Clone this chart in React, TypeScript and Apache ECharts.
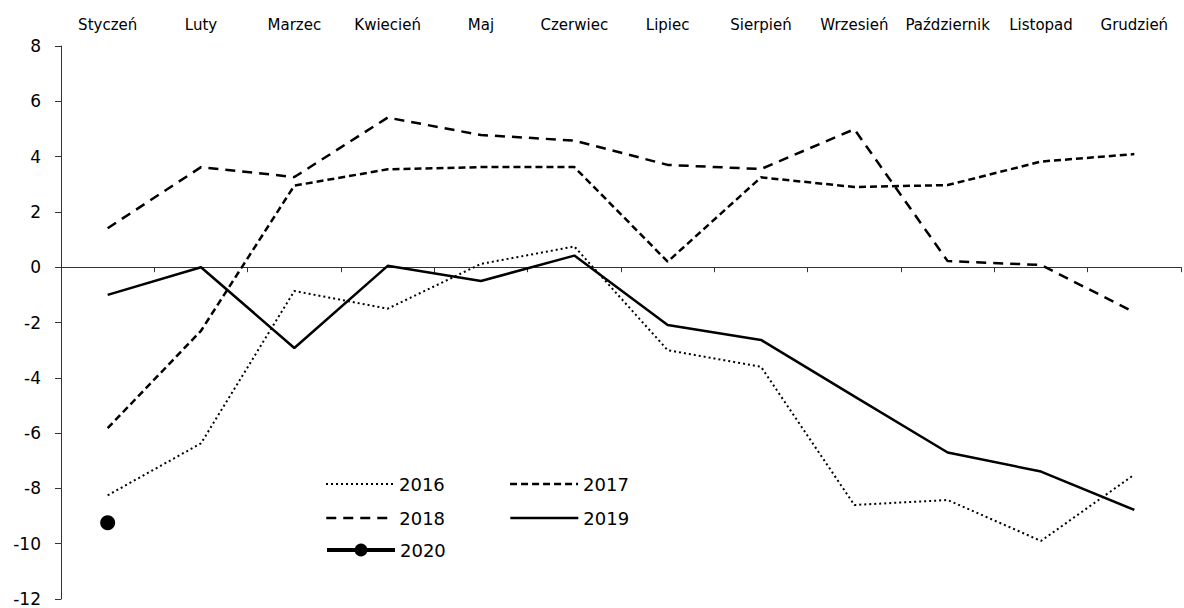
import React, { useEffect, useRef } from "react";
import * as echarts from "echarts";

const months = [
  "Styczeń", "Luty", "Marzec", "Kwiecień", "Maj", "Czerwiec",
  "Lipiec", "Sierpień", "Wrzesień", "Październik", "Listopad", "Grudzień",
];
const yTicks = { min: -12, max: 8, interval: 2 };

const s2016 = [-8.25, -6.37, -0.86, -1.5, 0.12, 0.75, -3.0, -3.6, -8.6, -8.42, -9.9, -7.5];
const s2017 = [-5.82, -2.3, 2.95, 3.54, 3.62, 3.62, 0.2, 3.25, 2.9, 2.97, 3.82, 4.09];
const s2018 = [1.41, 3.62, 3.26, 5.41, 4.78, 4.58, 3.7, 3.55, 4.99, 0.22, 0.08, -1.63];
const s2019 = [-1.0, 0.0, -2.92, 0.05, -0.5, 0.42, -2.09, -2.63, -4.67, -6.7, -7.39, -8.78];
const s2020 = [-9.24, null, null, null, null, null, null, null, null, null, null, null];

const FONT = "DejaVu Sans";

export default function App() {
  const ref = useRef<HTMLDivElement>(null);
  useEffect(() => {
    if (!ref.current) return;
    const chart = echarts.init(ref.current, undefined, { renderer: "svg" });
    const legendBase = {
      orient: "horizontal" as const,
      itemWidth: 68,
      itemHeight: 14,
      itemGap: 64,
      left: 325,
      padding: 0,
      textStyle: { fontSize: 18, color: "#000", fontFamily: FONT },
      selectedMode: false,
    };
    const noSym = (name: string, w: number) => ({
      name,
      itemStyle: { opacity: 0 },
      lineStyle: { width: w },
    });
    chart.setOption({
      animation: false,
      backgroundColor: "#fff",
      textStyle: { fontFamily: FONT },
      grid: { left: 61, right: 3, top: 46, bottom: 9, containLabel: false },
      legend: [
        { ...legendBase, top: 475, data: [noSym("2016", 2), noSym("2017", 2.5)] },
        { ...legendBase, top: 509, data: [noSym("2018", 2.5), noSym("2019", 2.5)] },
        { ...legendBase, top: 541, itemHeight: 16, data: [{ name: "2020", lineStyle: { width: 4 } }] },
      ],
      xAxis: [
        {
          type: "category",
          data: months,
          position: "top",
          boundaryGap: true,
          axisLine: { show: false, onZero: false },
          axisTick: { show: false },
          axisLabel: { fontSize: 15, color: "#000", margin: 14, fontFamily: FONT, interval: 0 },
        },
        {
          type: "category",
          data: months,
          position: "bottom",
          boundaryGap: true,
          axisLine: { show: true, onZero: true, lineStyle: { color: "#333", width: 1 } },
          axisTick: { show: true, length: 5, lineStyle: { color: "#333" }, interval: 0 },
          axisLabel: { show: false },
        },
      ],
      yAxis: {
        type: "value",
        min: yTicks.min,
        max: yTicks.max,
        interval: yTicks.interval,
        axisLine: { show: true, lineStyle: { color: "#333", width: 1 } },
        axisTick: { show: true, length: 6, lineStyle: { color: "#333" } },
        splitLine: { show: false },
        axisLabel: { fontSize: 17, color: "#000", margin: 20, fontFamily: FONT },
      },
      series: [
        {
          name: "2016", type: "line", data: s2016, symbol: "none",
          lineStyle: { color: "#000", width: 2, type: [2, 3] },
          itemStyle: { color: "#000" },
        },
        {
          name: "2017", type: "line", data: s2017, symbol: "none",
          lineStyle: { color: "#000", width: 2.5, type: [7, 4] },
          itemStyle: { color: "#000" },
        },
        {
          name: "2018", type: "line", data: s2018, symbol: "none",
          lineStyle: { color: "#000", width: 2.5, type: [10, 7] },
          itemStyle: { color: "#000" },
        },
        {
          name: "2019", type: "line", data: s2019, symbol: "none",
          lineStyle: { color: "#000", width: 2.5, type: "solid" },
          itemStyle: { color: "#000" },
        },
        {
          name: "2020", type: "line", data: s2020, symbol: "circle", symbolSize: 15,
          showSymbol: true,
          lineStyle: { color: "#000", width: 4, type: "solid" },
          itemStyle: { color: "#000" },
        },
      ],
    });
    return () => chart.dispose();
  }, []);
  return (
    <div
      ref={ref}
      style={{ position: "fixed", left: 0, top: 0, width: 1184, height: 608 }}
    />
  );
}
